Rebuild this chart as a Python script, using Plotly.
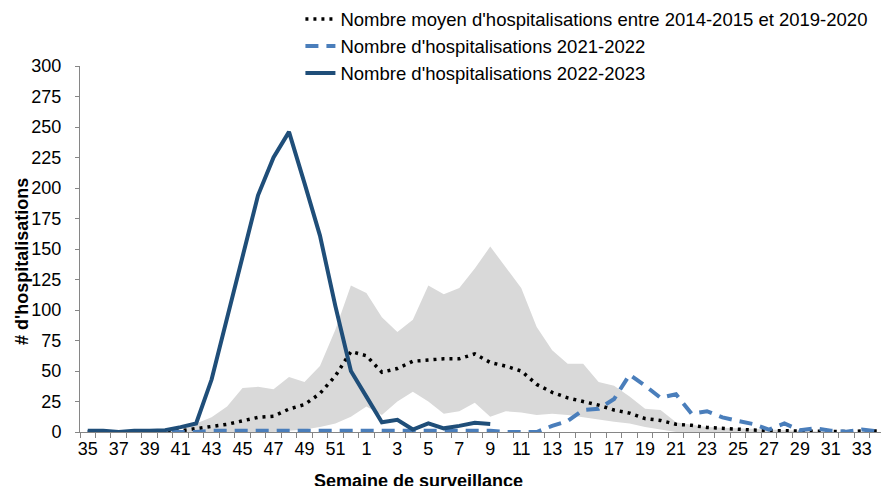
import plotly.graph_objects as go

weeks = [str(w) for w in list(range(35, 53)) + list(range(1, 35))]

mean_hosp = [0, 0, 0, 0, 0, 0.3, 1, 3, 4.7, 6.3, 9.2, 12, 13, 18.8, 22.5, 31.5, 46, 66,
             62.5, 49, 52, 58, 59, 60, 60, 64, 57, 54, 50, 39, 32.5, 28, 25, 22, 18, 15.5,
             11, 9.5, 6.3, 5.5, 3.7, 2.8, 2, 1.6, 1.2, 1, 0.8, 0.5, 0.3, 0.3, 0.8, 0.8]
band_max = [0, 0, 0, 0, 0, 0, 1, 7, 12, 21, 36, 37, 35, 45, 41, 54, 84, 120,
            114, 94, 82, 92, 120, 113, 118, 134, 152, 135, 118, 86, 67, 56, 56, 41, 38, 29,
            19, 18, 8, 6, 4, 3.5, 3, 2, 2, 1, 0.5, 0, 0, 0, 0, 0]
band_min = [0, 0, 0, 0, 0, 0, 0, 0, 0, 0, 0, 0, 0, 1, 2, 4, 7, 12.5,
            21, 14, 25, 33, 25, 15, 17, 24, 12.5, 17, 16, 14, 15, 14, 12, 10, 8.5, 7,
            4, 2, 0, 0, 0, 0, 0, 0, 0, 0, 0, 0, 0, 0, 0, 0]
hosp_2122 = [0, 0, 0, 0, 0, 0, 0, 0, 1, 1, 1, 1, 1, 1, 1, 1, 1, 1,
             1, 1, 1, 1, 1, 1, 1, 1, 1, 0, 0, 0, 5, 9, 18, 19, 27, 47,
             38, 28, 31, 15, 17, 12, 9, 6.5, 2, 7, 1.5, 3, 1, 0.3, 2, 0.5]
hosp_2223 = [1, 1, 0, 1, 1, 1.5, 4, 7, 43, 93, 143, 194, 225, 246, 204, 161, 103, 50,
             29, 8, 10, 2, 7, 3, 5, 7.5, 6.5]

tick_labels = weeks[::2]

xi = list(range(len(weeks)))

fig = go.Figure()
fig.add_trace(go.Scatter(x=xi, y=band_min, mode="lines", line=dict(width=0, color="#D9D9D9"),
                         showlegend=False, hoverinfo="skip"))
fig.add_trace(go.Scatter(x=xi, y=band_max, mode="lines", line=dict(width=0, color="#D9D9D9"),
                         fill="tonexty", fillcolor="#D9D9D9", showlegend=False, hoverinfo="skip"))
fig.add_trace(go.Scatter(x=xi, y=mean_hosp, mode="lines",
                         name="Nombre moyen d'hospitalisations entre 2014-2015 et 2019-2020",
                         line=dict(color="#000000", width=3.5, dash="3px,5px"), cliponaxis=False))
fig.add_trace(go.Scatter(x=xi, y=hosp_2122, mode="lines",
                         name="Nombre d'hospitalisations 2021-2022",
                         line=dict(color="#4A7EBB", width=4, dash="13px,8px"), cliponaxis=False))
fig.add_trace(go.Scatter(x=xi[:len(hosp_2223)], y=hosp_2223, mode="lines",
                         name="Nombre d'hospitalisations 2022-2023",
                         line=dict(color="#1F4E79", width=4), cliponaxis=False))

font = "Liberation Sans, Arial, sans-serif"
fig.update_layout(
    width=881, height=486,
    margin=dict(l=80, r=0, t=66, b=54, autoexpand=False),
    paper_bgcolor="white", plot_bgcolor="white",
    font=dict(family=font, size=18, color="#000000"),
    showlegend=True,
    legend=dict(x=0.341, y=0.999, xref="container", yref="container", xanchor="left", yanchor="top",
                bgcolor="rgba(0,0,0,0)", traceorder="normal",
                font=dict(size=18.5), tracegroupgap=0),
    xaxis=dict(range=[-0.5, 51.24], tickmode="array", tickvals=xi[::2], ticktext=tick_labels,
               showgrid=False, zeroline=False, showline=True, linecolor="#868686", linewidth=1,
               ticks="", tickfont=dict(size=18), automargin=False,
               minor=dict(tickmode="linear", tick0=-0.5, dtick=1, ticks="outside",
                          ticklen=5, tickcolor="#868686", showgrid=False)),
    yaxis=dict(range=[0, 300], tickmode="linear", tick0=0, dtick=25, showgrid=False,
               zeroline=False, showline=True, linecolor="#868686", linewidth=1,
               ticks="outside", ticklen=4, tickcolor="#868686", tickfont=dict(size=18),
               ticklabelstandoff=10, automargin=False),
    annotations=[
        dict(text="<b># d'hospitalisations</b>", x=-0.0724, y=0.4645, xref="paper", yref="paper",
             textangle=-90, showarrow=False, xanchor="center", yanchor="middle",
             font=dict(size=18)),
        dict(text="<b>Semaine de surveillance</b>", x=0.422, y=-0.134, xref="paper", yref="paper",
             showarrow=False, xanchor="center", yanchor="middle", font=dict(size=18)),
    ],
)

fig.write_html("out.html", config={"displayModeBar": False},
               post_script="document.body.style.margin='0';document.body.style.overflow='hidden';")
